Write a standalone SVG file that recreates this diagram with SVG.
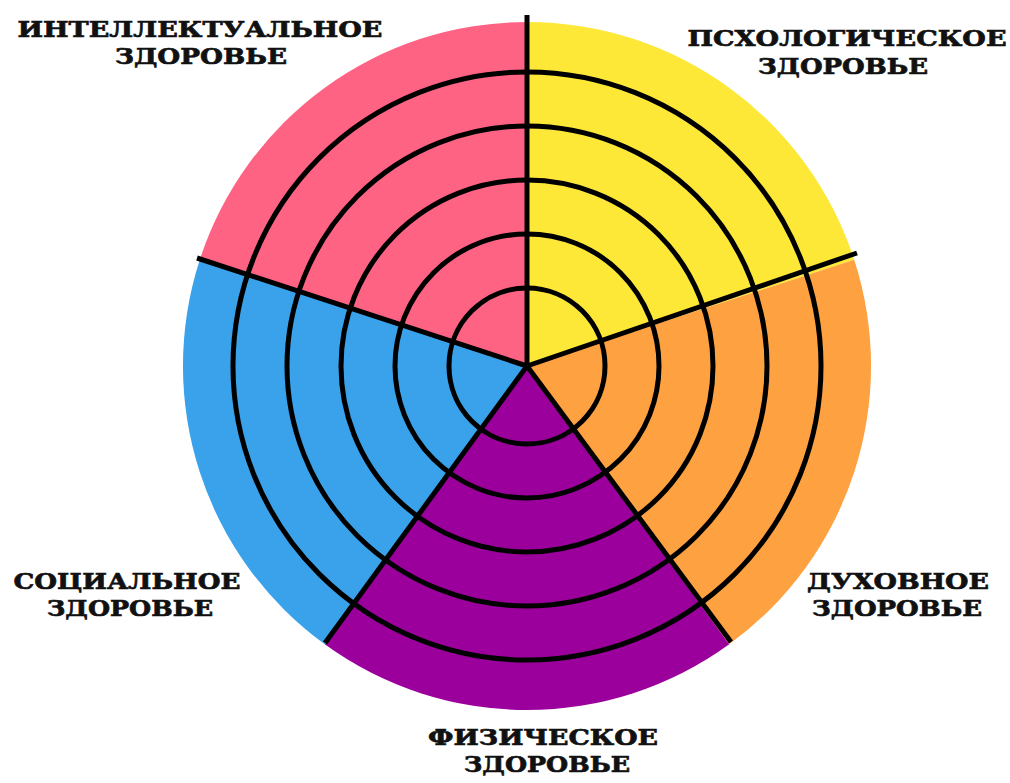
<svg xmlns="http://www.w3.org/2000/svg" width="1010" height="783" viewBox="0 0 1010 783">
<style>
.ring{fill:none;stroke:#000;stroke-width:5}
.spoke{stroke:#000;stroke-width:5;stroke-linecap:butt}
.lbl{font-family:"DejaVu Serif","Liberation Serif",serif;font-weight:bold;font-size:23px;fill:#111;stroke:#111;stroke-width:0.7;text-anchor:middle}
</style>
<rect width="1010" height="783" fill="#fff"/>
<g id="sectors">
<g id="intellectual"><path d="M527,366 L199.8,259.7 A344,344 0 0 1 527,22 Z" fill="#FE6384"/></g>
<g id="psychological"><path d="M527,366 L527,22 A344,344 0 0 1 854.2,259.7 Z" fill="#FDE838"/></g>
<g id="spiritual"><path d="M527,366 L854.2,259.7 A344,344 0 0 1 729.2,644.3 Z" fill="#FEA141"/></g>
<g id="physical"><path d="M527,366 L729.2,644.3 A344,344 0 0 1 324.8,644.3 Z" fill="#9C009C"/></g>
<g id="social"><path d="M527,366 L324.8,644.3 A344,344 0 0 1 199.8,259.7 Z" fill="#3AA2EA"/></g>
</g>
<g id="rings">
<circle class="ring" cx="527" cy="366" r="78"/>
<circle class="ring" cx="527" cy="366" r="132"/>
<circle class="ring" cx="527" cy="366" r="186"/>
<circle class="ring" cx="527" cy="366" r="240"/>
<circle class="ring" cx="527" cy="366" r="294"/>
</g>
<g id="connectors">
<line class="spoke" x1="527" y1="366" x2="527" y2="15"/>
<line class="spoke" x1="527" y1="366" x2="857" y2="253"/>
<line class="spoke" x1="527" y1="366" x2="731" y2="642"/>
<line class="spoke" x1="527" y1="366" x2="325" y2="643"/>
<line class="spoke" x1="527" y1="366" x2="197" y2="258"/>
</g>
<g id="labels">
<g id="label-intellectual">
<text class="lbl" x="200" y="37" textLength="365" lengthAdjust="spacingAndGlyphs">ИНТЕЛЛЕКТУАЛЬНОЕ</text>
<text class="lbl" x="201" y="64" textLength="172" lengthAdjust="spacingAndGlyphs">ЗДОРОВЬЕ</text>
</g>
<g id="label-psychological">
<text class="lbl" x="847" y="46" textLength="319" lengthAdjust="spacingAndGlyphs">ПСХОЛОГИЧЕСКОЕ</text>
<text class="lbl" x="843" y="74" textLength="170" lengthAdjust="spacingAndGlyphs">ЗДОРОВЬЕ</text>
</g>
<g id="label-spiritual">
<text class="lbl" x="898" y="589" textLength="182" lengthAdjust="spacingAndGlyphs">ДУХОВНОЕ</text>
<text class="lbl" x="897" y="616" textLength="170" lengthAdjust="spacingAndGlyphs">ЗДОРОВЬЕ</text>
</g>
<g id="label-physical">
<text class="lbl" x="543" y="745" textLength="230" lengthAdjust="spacingAndGlyphs">ФИЗИЧЕСКОЕ</text>
<text class="lbl" x="547" y="772" textLength="166" lengthAdjust="spacingAndGlyphs">ЗДОРОВЬЕ</text>
</g>
<g id="label-social">
<text class="lbl" x="127" y="589" textLength="227" lengthAdjust="spacingAndGlyphs">СОЦИАЛЬНОЕ</text>
<text class="lbl" x="130" y="616" textLength="166" lengthAdjust="spacingAndGlyphs">ЗДОРОВЬЕ</text>
</g>
</g>
</svg>
